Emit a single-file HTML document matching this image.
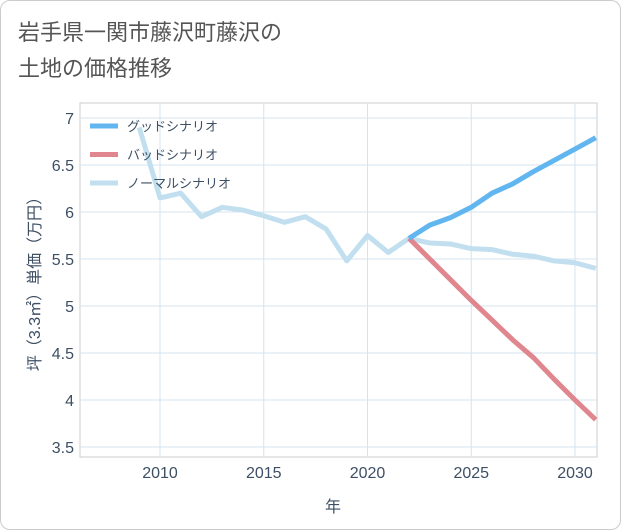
<!DOCTYPE html>
<html><head><meta charset="utf-8">
<style>
body{margin:0;background:#fff;font-family:"Liberation Sans","Noto Sans CJK JP",sans-serif;}
#card{position:absolute;left:0;top:0;width:619px;height:528px;border:1px solid #ccc;border-radius:10px;background:#fff;}
</style></head>
<body>
<div id="card"></div>
<svg id="chart" width="621" height="530" style="position:absolute;left:0;top:0">
<text x="18" y="40" font-size="22" fill="#555">岩手県一関市藤沢町藤沢の</text>
<text x="18" y="76" font-size="22" fill="#555">土地の価格推移</text>
<g id="grid"></g><g id="series"></g><g id="legend"></g>
<text x="333" y="512" font-size="16" fill="#3d4f63" text-anchor="middle">年</text>
<text transform="translate(40,280) rotate(-90)" font-size="16" fill="#3d4f63" text-anchor="middle">坪（3.3㎡）単価（万円）</text>
</svg>
<script>
const years=[2009,2010,2011,2012,2013,2014,2015,2016,2017,2018,2019,2020,2021,2022,2023,2024,2025,2026,2027,2028,2029,2030,2031];
const normal=[6.9,6.15,6.2,5.95,6.05,6.02,5.96,5.89,5.95,5.82,5.48,5.75,5.57,5.72,5.67,5.66,5.61,5.6,5.55,5.53,5.48,5.46,5.40];
const goodYears=[2022,2023,2024,2025,2026,2027,2028,2029,2030,2031];
const good=[5.72,5.86,5.94,6.05,6.2,6.3,6.43,6.55,6.67,6.79];
const bad=[5.72,5.5,5.28,5.06,4.85,4.64,4.45,4.22,4.0,3.79];
const xTicks=[2010,2015,2020,2025,2030];
const yTicks=[3.5,4,4.5,5,5.5,6,6.5,7];
const yTickLabels=["3.5","4","4.5","5","5.5","6","6.5","7"];
const legendLabels=["グッドシナリオ","バッドシナリオ","ノーマルシナリオ"];
const L=80,R=597,T=103,B=457;
const x=v=>160+(v-2010)*20.75;
const y=v=>118+(7-v)*94;
const NS="http://www.w3.org/2000/svg";
function mk(p,t,a){const e=document.createElementNS(NS,t);for(const k in a)e.setAttribute(k,a[k]);p.appendChild(e);return e;}
const g=document.getElementById('grid');
const frame=mk(g,'rect',{x:L,y:T,width:R-L,height:B-T,fill:'none',stroke:'#ccc'});


xTicks.forEach(v=>{const l=mk(g,'line',{x1:x(v),x2:x(v),y1:T,y2:B,stroke:'#d5e3ef'});


const t=mk(g,'text',{x:x(v),y:478,'font-size':16,fill:'#3d4f63','text-anchor':'middle'});t.textContent=v;

});
yTicks.forEach((v,i)=>{const l=mk(g,'line',{x1:L,x2:R,y1:y(v),y2:y(v),stroke:'#d5e3ef'});


const t=mk(g,'text',{x:74,y:y(v)+6,'font-size':16,fill:'#3d4f63','text-anchor':'end'});t.textContent=yTickLabels[i];

});
const s=document.getElementById('series');
s.setAttribute('clip-path','url(#clip)');
const cp=mk(mk(document.getElementById('chart'),'defs',{}),'clipPath',{id:'clip'});mk(cp,'rect',{x:L,y:T,width:R-L,height:B-T});
function line(xs,ys,c,n){const p=mk(s,'polyline',{points:xs.map((v,i)=>x(v)+','+y(ys[i])).join(' '),fill:'none',stroke:c,'stroke-width':5,'stroke-linejoin':'round'});

}
line(years,normal,'#c2dff0','normal-scenario-line');
line(goodYears,bad,'#e0868f','bad-scenario-line');
line(goodYears,good,'#62b6ef','good-scenario-line');
const lg=document.getElementById('legend');const cols=['#62b6ef','#e0868f','#c2dff0'];
legendLabels.forEach((n,i)=>{const yy=126+i*28.5;mk(lg,'line',{x1:90,x2:118,y1:yy,y2:yy,stroke:cols[i],'stroke-width':5});
const t=mk(lg,'text',{x:127,y:yy+5,'font-size':13,fill:'#3d4f63'});t.textContent=n;

});
</script>
</body></html>
